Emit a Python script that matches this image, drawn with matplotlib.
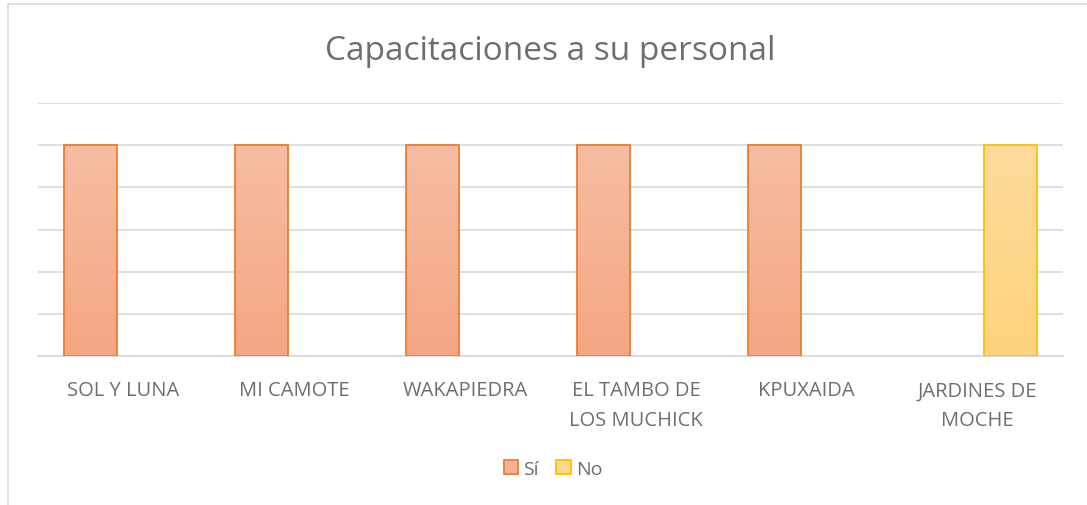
import numpy as np
import matplotlib.pyplot as plt
from matplotlib.patches import Rectangle, Patch

plt.rcParams['font.family'] = ['Open Sans', 'DejaVu Sans']

categories = ['SOL Y LUNA', 'MI CAMOTE', 'WAKAPIEDRA', 'EL TAMBO DE\nLOS MUCHICK',
              'KPUXAIDA', 'JARDINES DE\nMOCHE']
si_values = [1, 1, 1, 1, 1, 0]
no_values = [0, 0, 0, 0, 0, 1]

text_color = '#6e6e6e'
grid_color = '#d9d9d9'

fig = plt.figure(figsize=(10.87, 5.06), dpi=100)
ax = fig.add_axes([38 / 1087, 1 - 357 / 506, 1025 / 1087, 253 / 506])

# outer chart border (only left/top visible in the reference)
fig.patches.append(Rectangle((8 / 1087, -0.1), 1.2, 1 - 5 / 506 + 0.1,
                             transform=fig.transFigure, fill=False,
                             edgecolor=grid_color, linewidth=1.2))

x = np.arange(len(categories))
width = 0.31
offset = 0.19


def gradient_bars(xpos, vals, top, bottom, edge):
    bars = ax.bar(xpos, vals, width, color='none', edgecolor=edge,
                  linewidth=1.3, zorder=3)
    grad = np.linspace(0, 1, 100).reshape(-1, 1)
    c_top = np.array(plt.matplotlib.colors.to_rgb(top))
    c_bot = np.array(plt.matplotlib.colors.to_rgb(bottom))
    img = c_top[None, None, :] * (1 - grad[:, :, None]) + c_bot[None, None, :] * grad[:, :, None]
    for b in bars:
        if b.get_height() <= 0:
            b.set_linewidth(0)
            continue
        x0, y0 = b.get_x(), b.get_y()
        w, h = b.get_width(), b.get_height()
        im = ax.imshow(img, extent=[x0, x0 + w, y0, y0 + h], aspect='auto',
                       origin='upper', zorder=2)
        im.set_clip_path(b)
    return bars


gradient_bars(x - offset, si_values, '#f7bda3', '#f4a683', '#ed7d31')
gradient_bars(x + offset, no_values, '#fddb9c', '#fed47c', '#ffc000')

ax.set_xlim(-0.5, len(categories) - 0.5)
ax.set_ylim(0, 1.2)
ax.set_yticks(np.arange(0, 1.21, 0.2))
ax.yaxis.grid(True, color=grid_color, linewidth=1.2, zorder=0)
ax.set_axisbelow(True)
ax.tick_params(axis='y', left=False, labelleft=False)
ax.tick_params(axis='x', bottom=False, colors=text_color, labelsize=14.5, pad=14)
ax.set_xticks(x)
ax.set_xticklabels(categories, linespacing=1.65)
for s in ['top', 'right', 'left']:
    ax.spines[s].set_visible(False)
ax.spines['bottom'].set_color(grid_color)
ax.spines['bottom'].set_linewidth(1.2)

fig.text(550 / 1087, 1 - 51 / 506, 'Capacitaciones a su personal', ha='center',
         va='center', fontsize=24, color=text_color)

handles = [Patch(facecolor='#f5b293', edgecolor='#ed7d31', linewidth=1.3, label='Sí'),
           Patch(facecolor='#fdd88f', edgecolor='#ffc000', linewidth=1.3, label='No')]
fig.legend(handles=handles, loc='center', bbox_to_anchor=(553 / 1087, 1 - 470 / 506),
           ncol=2, frameon=False, fontsize=14, labelcolor=text_color,
           handlelength=0.75, handleheight=0.75, handletextpad=0.25, columnspacing=0.9)

fig.savefig('out.png', dpi=100, facecolor='white')
